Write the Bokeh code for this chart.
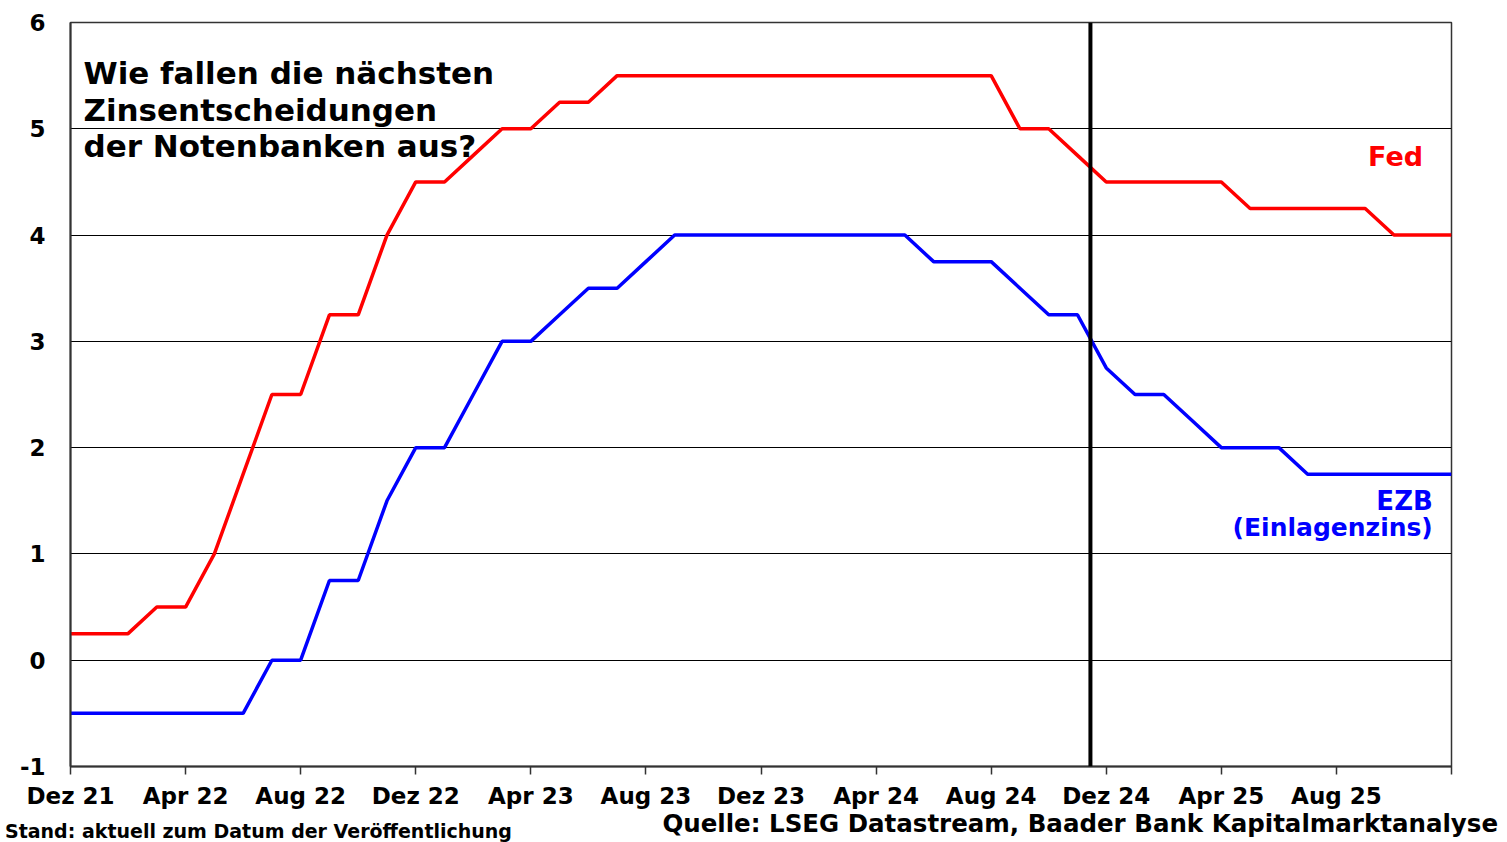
from bokeh.plotting import figure
from bokeh.models import Range1d, FixedTicker, Span, Label, Div
from bokeh.layouts import column
from bokeh.embed import file_html
from bokeh.resources import INLINE

# ---- data (monthly end values, Dez 21 .. Dez 25) ----
months = ["Dez 21", "Jan 22", "Feb 22", "Mrz 22", "Apr 22", "Mai 22", "Jun 22", "Jul 22",
          "Aug 22", "Sep 22", "Okt 22", "Nov 22", "Dez 22", "Jan 23", "Feb 23", "Mrz 23",
          "Apr 23", "Mai 23", "Jun 23", "Jul 23", "Aug 23", "Sep 23", "Okt 23", "Nov 23",
          "Dez 23", "Jan 24", "Feb 24", "Mrz 24", "Apr 24", "Mai 24", "Jun 24", "Jul 24",
          "Aug 24", "Sep 24", "Okt 24", "Nov 24", "Dez 24", "Jan 25", "Feb 25", "Mrz 25",
          "Apr 25", "Mai 25", "Jun 25", "Jul 25", "Aug 25", "Sep 25", "Okt 25", "Nov 25",
          "Dez 25"]

fed = [0.25, 0.25, 0.25, 0.5, 0.5, 1.0, 1.75, 2.5,
       2.5, 3.25, 3.25, 4.0, 4.5, 4.5, 4.75, 5.0,
       5.0, 5.25, 5.25, 5.5, 5.5, 5.5, 5.5, 5.5,
       5.5, 5.5, 5.5, 5.5, 5.5, 5.5, 5.5, 5.5,
       5.5, 5.0, 5.0, 4.75, 4.5, 4.5, 4.5, 4.5,
       4.5, 4.25, 4.25, 4.25, 4.25, 4.25, 4.0, 4.0,
       4.0]

ezb = [-0.5, -0.5, -0.5, -0.5, -0.5, -0.5, -0.5, 0.0,
       0.0, 0.75, 0.75, 1.5, 2.0, 2.0, 2.5, 3.0,
       3.0, 3.25, 3.5, 3.5, 3.75, 4.0, 4.0, 4.0,
       4.0, 4.0, 4.0, 4.0, 4.0, 4.0, 3.75, 3.75,
       3.75, 3.5, 3.25, 3.25, 2.75, 2.5, 2.5, 2.25,
       2.0, 2.0, 2.0, 1.75, 1.75, 1.75, 1.75, 1.75,
       1.75]

tick_months = ["Dez 21", "Apr 22", "Aug 22", "Dez 22", "Apr 23", "Aug 23", "Dez 23",
               "Apr 24", "Aug 24", "Dez 24", "Apr 25", "Aug 25", "Dez 25"]
tick_labels = ["Dez 21", "Apr 22", "Aug 22", "Dez 22", "Apr 23", "Aug 23", "Dez 23",
               "Apr 24", "Aug 24", "Dez 24", "Apr 25", "Aug 25", ""]
y_ticks = [-1, 0, 1, 2, 3, 4, 5, 6]
y_labels = ["-1", "0", "1", "2", "3", "4", "5", "6"]

stand_position = 35.45  # publication date marker (mid Dez 24)

title_lines = ["Wie fallen die nächsten", "Zinsentscheidungen", "der Notenbanken aus?"]
stand_text = "Stand: aktuell zum Datum der Veröffentlichung"
source_text = "Quelle: LSEG Datastream, Baader Bank Kapitalmarktanalyse"

x = [months.index(m) for m in months]
tick_pos = [months.index(m) for m in tick_months]

FONT = "DejaVu Sans"
W = 1499

p = figure(width=W, height=812, output_backend="svg", toolbar_location=None,
           x_range=Range1d(0, len(months) - 1), y_range=Range1d(-1, 6),
           min_border_left=70, min_border_right=48, min_border_top=22, min_border_bottom=46)
p.background_fill_color = "white"
p.border_fill_color = "white"
p.outline_line_color = "#333333"
p.outline_line_width = 1.5

# axes
p.xaxis.ticker = FixedTicker(ticks=tick_pos)
p.xaxis.major_label_overrides = {pos: lab for pos, lab in zip(tick_pos, tick_labels)}
p.xaxis.major_tick_out = 8
p.xaxis.major_tick_in = 0
p.xaxis.minor_tick_out = 0
p.xaxis.minor_tick_in = 0
p.xaxis.major_label_standoff = 8
p.yaxis.ticker = FixedTicker(ticks=y_ticks)
p.yaxis.major_label_overrides = {t: lab for t, lab in zip(y_ticks, y_labels)}
p.yaxis.major_tick_out = 0
p.yaxis.major_tick_in = 0
p.yaxis.minor_tick_out = 0
p.yaxis.minor_tick_in = 0
p.yaxis.major_label_standoff = 25
for ax in (p.xaxis, p.yaxis):
    ax.axis_line_color = "#333333"
    ax.axis_line_width = 2
    ax.major_tick_line_color = "#333333"
    ax.major_tick_line_width = 1.5
    ax.major_label_text_font = FONT
    ax.major_label_text_font_style = "bold"
    ax.major_label_text_font_size = "23px"
    ax.major_label_text_color = "black"

p.xgrid.grid_line_color = None
p.ygrid.grid_line_color = "black"
p.ygrid.grid_line_width = 1.2

# series
p.line(x, fed, line_color="#FF0000", line_width=3.5)
p.line(x, ezb, line_color="#0000FF", line_width=3.5)

# publication marker
p.add_layout(Span(location=stand_position, dimension="height", line_color="black", line_width=4))

# title in plot
for i, t in enumerate(title_lines):
    p.add_layout(Label(x=0.45, y=5.526 - i * 0.345, text=t, text_font=FONT,
                       text_font_style="bold", text_font_size="31px", text_color="black",
                       text_baseline="alphabetic", text_align="left"))

# series labels
p.add_layout(Label(x=45.1, y=4.735, text="Fed", text_font=FONT, text_font_style="bold",
                   text_font_size="27px", text_color="#FF0000", text_baseline="alphabetic"))
p.add_layout(Label(x=47.35, y=1.50, text="EZB", text_font=FONT, text_font_style="bold",
                   text_font_size="26px", text_color="#0000FF", text_baseline="alphabetic",
                   text_align="right"))
p.add_layout(Label(x=47.35, y=1.245, text="(Einlagenzins)", text_font=FONT, text_font_style="bold",
                   text_font_size="25px", text_color="#0000FF", text_baseline="alphabetic",
                   text_align="right"))

# footer strip (HTML text)
footer_html = (
    '<div style="position:relative;width:%dpx;height:30px;font-family:\'DejaVu Sans\';'
    'font-weight:bold;color:black;white-space:nowrap;">'
    '<span style="position:absolute;left:5px;top:10px;font-size:19px;line-height:19px;">%s</span>'
    '<span style="position:absolute;right:1px;top:0px;font-size:24.5px;line-height:24px;">%s</span>'
    '</div>' % (W, stand_text, source_text)
)
footer = Div(text=footer_html, width=W, height=30, styles={"overflow": "visible", "margin": "0"})

layout = column(p, footer, spacing=0)
open("out.html", "w").write(file_html(layout, INLINE))
